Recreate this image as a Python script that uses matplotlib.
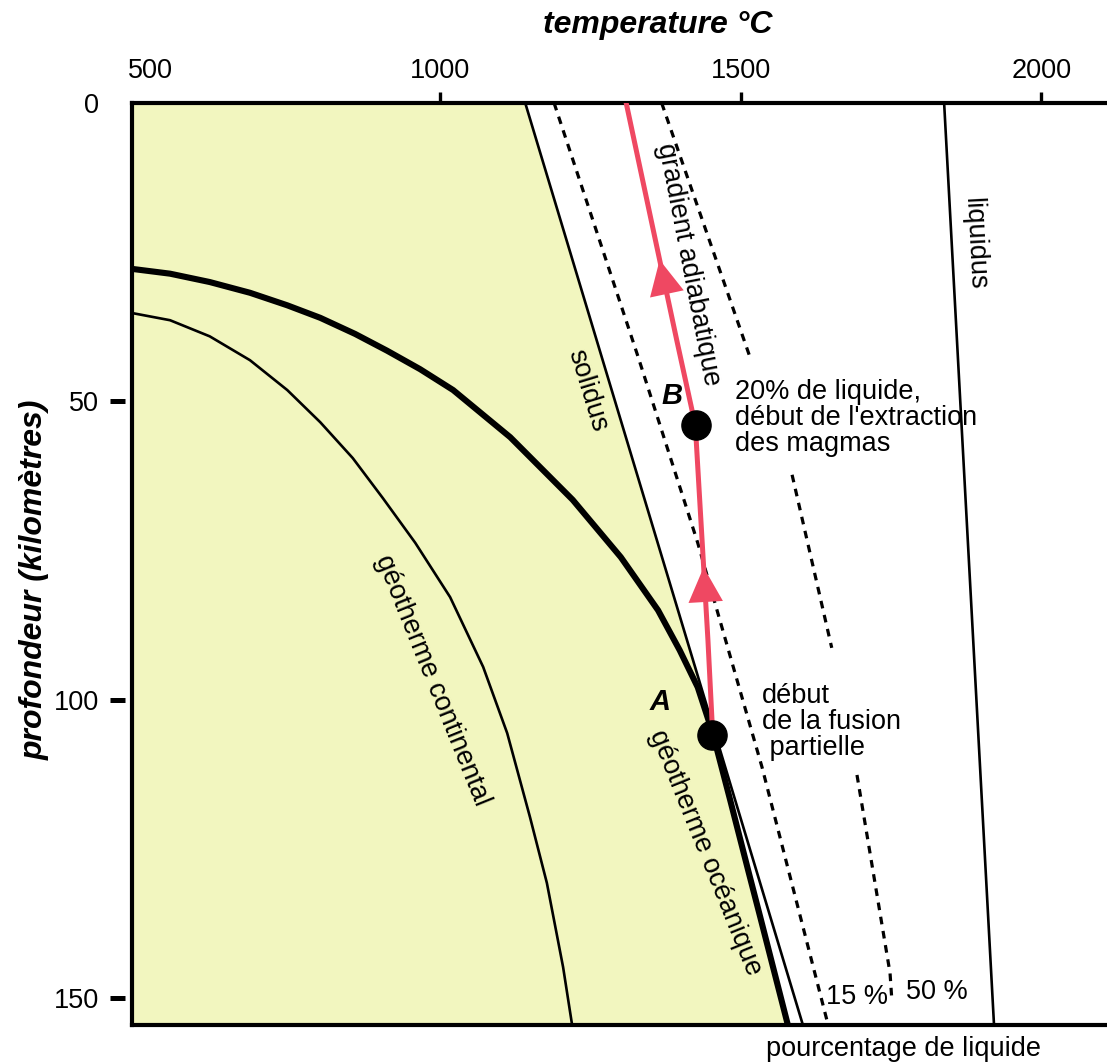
import numpy as np
import matplotlib
matplotlib.use('Agg')
import matplotlib.pyplot as plt

plt.rcParams['font.family'] = ['Liberation Sans', 'DejaVu Sans']

# all curves: depth (km) and temperature (°C)
solidus_depth = [0, 154.5]
solidus_temp = [1141, 1603]

liquidus_depth = [0, 154.5]
liquidus_temp = [1838, 1921]

ocean_depth = [27.8, 28.6, 30.0, 31.8, 33.9, 36.0, 38.7, 41.5, 44.6, 48.1, 56.0, 66.5, 76.1,
               85.0, 91.7, 97.9, 105.6, 116.8, 129.0, 136.4, 154.5]
ocean_temp = [487, 550, 616, 683, 745, 800, 858, 911, 966, 1021, 1116, 1220, 1300,
              1362, 1398, 1428, 1453, 1482, 1513, 1532, 1578]

cont_depth = [35.2, 36.4, 39.1, 43.1, 48.1, 53.5, 59.5, 66.2, 73.7, 82.8, 94.5, 105.6,
              119.7, 130.7, 144.8, 154.5]
cont_temp = [487, 550, 616, 683, 745, 800, 854, 904, 958, 1016, 1071, 1111,
             1149, 1177, 1204, 1219]

# iso-melt lines (15 % and 50 % liquid), the 50 % one is broken by the labels
melt15_depth = [0, 42.6, 73.7, 95.5, 111.3, 154.5]
melt15_temp = [1189, 1329, 1428, 1490, 1535, 1645]
melt50_depth = [0, 42.6, np.nan, 62.3, 91.3, np.nan, 112.6, 145.8, 150.3]
melt50_temp = [1368, 1515, np.nan, 1585, 1651, np.nan, 1693, 1748, 1751]

# rising mantle path (adiabatic gradient)
path_depth = [0, 39.7, 54.0, 90.0, 105.9]
path_temp = [1309, 1393, 1424, 1445, 1453]
arrow_depth = [26.3, 77.8]

point_names = ['A', 'B']
point_depth = [105.9, 54.0]
point_temp = [1452, 1425]

xticks = [500, 1000, 1500, 2000]
yticks = [0, 50, 100, 150]

yellow = '#f2f6bf'
red = '#ef4862'

fig = plt.figure(figsize=(11.07, 10.63), dpi=100)
ax = fig.add_axes([132 / 1107, 1 - 1025 / 1063, 1 - 132 / 1107, (1025 - 103) / 1063])
ax.set_xlim(486.7, 2109)
ax.set_ylim(154.5, 0)

# solid field: left of the solidus above A, left of the oceanic geotherm below A
d = np.linspace(0, 154.5, 400)
sol = np.interp(d, solidus_depth, solidus_temp)
geo = np.interp(d, ocean_depth, ocean_temp)
edge = np.where(d < point_depth[0], sol, np.minimum(sol, geo))
ax.fill_betweenx(d, 486.7, edge, color=yellow, lw=0, zorder=0)

ax.plot(solidus_temp, solidus_depth, color='black', lw=1.9)
ax.plot(liquidus_temp, liquidus_depth, color='black', lw=1.9)
ax.plot(cont_temp, cont_depth, color='black', lw=1.9, solid_joinstyle='round')
ax.plot(ocean_temp, ocean_depth, color='black', lw=4.4, solid_capstyle='butt', solid_joinstyle='round')
ax.plot(melt15_temp, melt15_depth, color='black', lw=2.3, ls=(0, (2.4, 2.1)))
ax.plot(melt50_temp, melt50_depth, color='black', lw=2.3, ls=(0, (2.4, 2.1)))

ax.plot(path_temp, path_depth, color=red, lw=3.6, zorder=4)
for dt in arrow_depth:
    db = dt + 5.5
    ax.annotate('', xy=(np.interp(dt, path_depth, path_temp), dt),
                xytext=(np.interp(db, path_depth, path_temp), db),
                arrowprops=dict(arrowstyle='-|>,head_length=1.25,head_width=0.62',
                                mutation_scale=20, color=red, lw=0,
                                shrinkA=0, shrinkB=0), zorder=5)

ax.plot(point_temp, point_depth, 'o', color='black', ms=21, zorder=6)

fs = 19.5
ax.text(1366, 100.4, 'A', fontsize=21, fontweight='bold', style='italic', ha='center', va='center')
ax.text(1385, 49.1, 'B', fontsize=21, fontweight='bold', style='italic', ha='center', va='center')

ax.text(1244, 48.1, 'solidus', fontsize=fs, rotation=-73, ha='center', va='center', rotation_mode='anchor')
ax.text(1412, 27.1, 'gradient adiabatique', fontsize=fs, rotation=-79, ha='center', va='center',
        rotation_mode='anchor')
ax.text(986, 96.7, 'géotherme continental', fontsize=fs, rotation=-68, ha='center', va='center',
        rotation_mode='anchor')
ax.text(1440, 125.7, 'géotherme océanique', fontsize=fs, rotation=-68, ha='center', va='center',
        rotation_mode='anchor')
ax.text(1889, 23.5, 'liquidus', fontsize=fs, rotation=-87, ha='center', va='center', rotation_mode='anchor')
ax.text(1490, 52.8, "20% de liquide,\ndébut de l'extraction\ndes magmas", fontsize=fs,
        ha='left', va='center', linespacing=1.0)
ax.text(1535, 103.7, 'début\nde la fusion\n partielle', fontsize=fs, ha='left', va='center', linespacing=1.0)
ax.text(1693, 149.8, '15 %', fontsize=fs, ha='center', va='center')
ax.text(1826, 148.9, '50 %', fontsize=fs, ha='center', va='center')
ax.text(1770, 158.6, 'pourcentage de liquide', fontsize=fs, ha='center', va='center', clip_on=False)

# axes
for side in ['top', 'left', 'bottom']:
    ax.spines[side].set_linewidth(3)
ax.spines['right'].set_visible(False)

ax.xaxis.tick_top()
ax.set_xticks(xticks)
# first label sits a little inside the corner, drawn separately below
ax.set_xticklabels([''] + [str(t) for t in xticks[1:]])
ax.tick_params(axis='x', direction='out', length=8, width=2.4, pad=6, labelsize=19.5)
ax.xaxis.get_major_ticks()[0].tick2line.set_visible(False)
fig.text(150 / 1107, 1 - 71 / 1063, str(xticks[0]), fontsize=19.5, ha='center', va='center')

ax.set_yticks(yticks)
ax.tick_params(axis='y', length=0, pad=24, labelsize=19.5)
for yt in yticks[1:]:
    ax.plot([-0.0226, -0.0072], [yt, yt], color='black', lw=3.6,
            transform=ax.get_yaxis_transform(), clip_on=False, solid_capstyle='butt')

fig.text(658 / 1107, 1 - 25 / 1063, 'temperature °C', fontsize=23, fontweight='bold', style='italic',
         ha='center', va='center')
fig.text(35 / 1107, 1 - 580 / 1063, 'profondeur (kilomètres)', fontsize=23, fontweight='bold',
         style='italic', ha='center', va='center', rotation=90)

fig.savefig('out.png', dpi=100)
